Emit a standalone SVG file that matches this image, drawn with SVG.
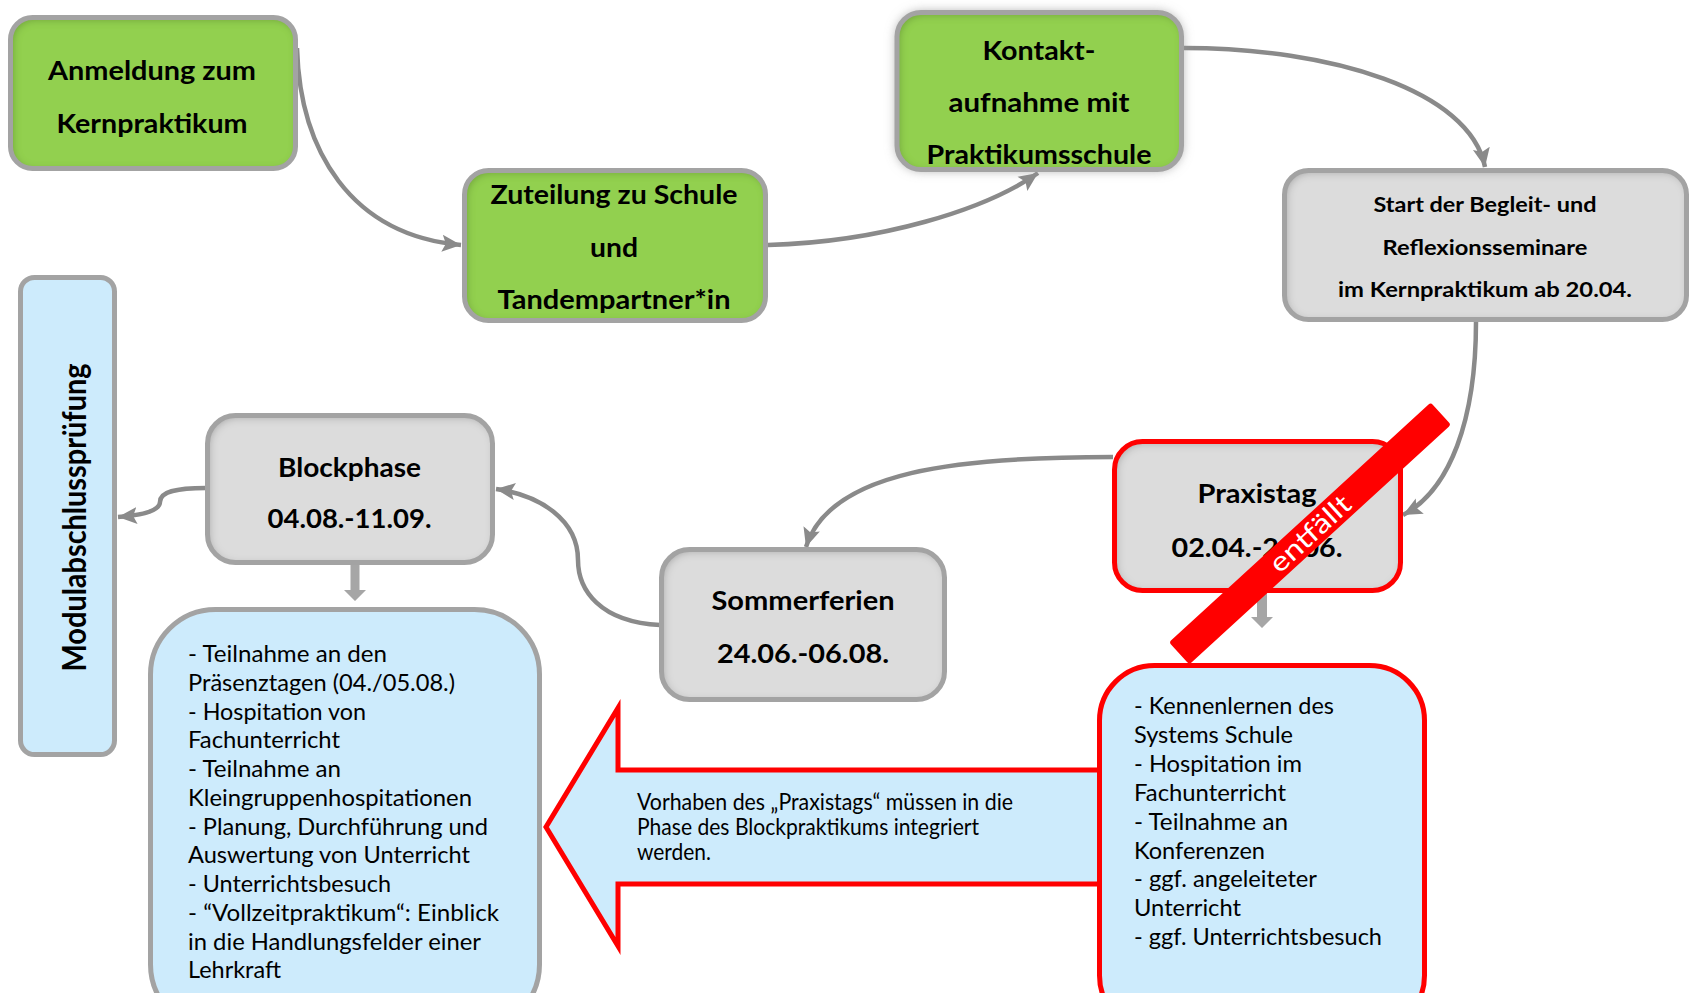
<svg xmlns="http://www.w3.org/2000/svg" width="1694" height="993" viewBox="0 0 1694 993">
<style>
.t{font-family:Lato,"Open Sans","Liberation Sans",sans-serif;font-weight:700;fill:#000;text-anchor:middle}
.b{font-family:Lato,"Open Sans","Liberation Sans",sans-serif;font-weight:400;fill:#000;font-size:23px}
.con{fill:none;stroke:#8a8a8a;stroke-width:4.5}
.blk{fill:#a6a6a6}
.gfill{fill:#92d050}
.grfill{fill:#dcdcdc}
.bfill{fill:#cdebfc}
.gb{fill:none;stroke:#a3a3a3;stroke-width:5}
.rb{fill:none;stroke:#ff0000;stroke-width:5}
</style>
<defs>
<marker id="ah" markerUnits="userSpaceOnUse" viewBox="0 0 20 20" refX="20" refY="10" markerWidth="19" markerHeight="19" orient="auto">
<path d="M0,1 L20,10 L0,19 L4,10 z" fill="#8a8a8a"/>
</marker>
<filter id="inner" x="-5%" y="-5%" width="110%" height="110%">
<feComponentTransfer in="SourceAlpha"><feFuncA type="table" tableValues="1 0"/></feComponentTransfer>
<feGaussianBlur stdDeviation="4"/>
<feOffset dx="2" dy="2" result="ob"/>
<feFlood flood-color="#000" flood-opacity="0.5"/>
<feComposite in2="ob" operator="in"/>
<feComposite in2="SourceAlpha" operator="in"/>
<feMerge><feMergeNode in="SourceGraphic"/><feMergeNode/></feMerge>
</filter>
<filter id="glow" x="-20%" y="-20%" width="140%" height="140%">
<feGaussianBlur stdDeviation="6"/>
</filter>
</defs>

<g id="connectors">
<path class="con" marker-end="url(#ah)" d="M297,48 C300,150 350,235 461,245"/>
<path class="con" marker-end="url(#ah)" d="M768,245 C880,242 985,210 1038,173"/>
<path class="con" marker-end="url(#ah)" d="M1184,48 C1330,48 1470,90 1485,167"/>
<path class="con" marker-end="url(#ah)" d="M1476,322 C1476,420 1450,490 1403,515"/>
<path class="con" marker-end="url(#ah)" d="M1113,457 C960,457 830,470 806,547"/>
<path class="con" marker-end="url(#ah)" d="M660,625 C600,622 578,590 578,560 C578,520 540,495 496,489"/>
<path class="con" marker-end="url(#ah)" d="M206,488 C175,488 160,492 160,502 C160,510 145,515 118,517"/>
<polygon class="blk" points="350.5,565 359.5,565 359.5,590 366,590 355,601 344,590 350.5,590"/>
<polygon class="blk" points="1257,593 1267,593 1267,617 1273,617 1262,628 1251,617 1257,617"/>
</g>

<g id="n-anmeldung">
<rect class="gfill" filter="url(#inner)" x="10.5" y="17.5" width="285" height="151" rx="22"/>
<rect class="gb" x="10.5" y="17.5" width="285" height="151" rx="22"/>
<text class="t" font-size="26" x="152" y="80" textLength="208" lengthAdjust="spacingAndGlyphs">Anmeldung zum</text>
<text class="t" font-size="26" x="152" y="132.7" textLength="191" lengthAdjust="spacingAndGlyphs">Kernpraktikum</text>
</g>

<g id="n-zuteilung">
<rect class="gfill" filter="url(#inner)" x="464.5" y="170.5" width="301" height="150" rx="24"/>
<rect class="gb" x="464.5" y="170.5" width="301" height="150" rx="24"/>
<text class="t" font-size="26" x="614" y="204" textLength="247" lengthAdjust="spacingAndGlyphs">Zuteilung zu Schule</text>
<text class="t" font-size="26" x="614" y="257" textLength="48" lengthAdjust="spacingAndGlyphs">und</text>
<text class="t" font-size="26" x="614" y="309" textLength="233" lengthAdjust="spacingAndGlyphs">Tandempartner*in</text>
</g>

<g id="n-kontakt">
<rect x="897" y="12.5" width="284.5" height="157" rx="24" fill="#9a9a9a" filter="url(#glow)"/>
<rect class="gfill" filter="url(#inner)" x="897" y="12.5" width="284.5" height="157" rx="24"/>
<rect class="gb" x="897" y="12.5" width="284.5" height="157" rx="24"/>
<text class="t" font-size="27" x="1039" y="60" textLength="113" lengthAdjust="spacingAndGlyphs">Kontakt-</text>
<text class="t" font-size="27" x="1039" y="112" textLength="181" lengthAdjust="spacingAndGlyphs">aufnahme mit</text>
<text class="t" font-size="27" x="1039" y="164" textLength="225" lengthAdjust="spacingAndGlyphs">Praktikumsschule</text>
</g>

<g id="n-start">
<rect class="grfill" filter="url(#inner)" x="1284.5" y="170.5" width="402" height="149" rx="24"/>
<rect class="gb" x="1284.5" y="170.5" width="402" height="149" rx="24"/>
<text class="t" font-size="21" x="1485" y="212" textLength="223" lengthAdjust="spacingAndGlyphs">Start der Begleit- und</text>
<text class="t" font-size="21" x="1485" y="255" textLength="205" lengthAdjust="spacingAndGlyphs">Reflexionsseminare</text>
<text class="t" font-size="21" x="1485" y="297" textLength="294" lengthAdjust="spacingAndGlyphs">im Kernpraktikum ab 20.04.</text>
</g>

<g id="n-modul">
<rect class="bfill" x="20.5" y="277.5" width="94" height="477" rx="14"/>
<rect class="gb" x="20.5" y="277.5" width="94" height="477" rx="14"/>
<text class="t" font-size="32" transform="translate(86 517.5) rotate(-90)" x="0" y="0" textLength="308" lengthAdjust="spacingAndGlyphs">Modulabschlussprüfung</text>
</g>

<g id="n-blockphase">
<rect class="grfill" filter="url(#inner)" x="207.5" y="415.5" width="285" height="147" rx="28"/>
<rect class="gb" x="207.5" y="415.5" width="285" height="147" rx="28"/>
<text class="t" font-size="26" x="349.5" y="477" textLength="143" lengthAdjust="spacingAndGlyphs">Blockphase</text>
<text class="t" font-size="26" x="349.5" y="528" textLength="164" lengthAdjust="spacingAndGlyphs">04.08.-11.09.</text>
</g>

<g id="n-sommerferien">
<rect class="grfill" filter="url(#inner)" x="661.5" y="549.5" width="283" height="150" rx="28"/>
<rect class="gb" x="661.5" y="549.5" width="283" height="150" rx="28"/>
<text class="t" font-size="26" x="803" y="610" textLength="183" lengthAdjust="spacingAndGlyphs">Sommerferien</text>
<text class="t" font-size="26" x="803" y="663" textLength="172" lengthAdjust="spacingAndGlyphs">24.06.-06.08.</text>
</g>

<g id="n-praxistag">
<rect class="grfill" filter="url(#inner)" x="1114.5" y="441.5" width="286" height="149" rx="28"/>
<rect class="rb" x="1114.5" y="441.5" width="286" height="149" rx="28"/>
<text class="t" font-size="26" x="1257" y="503" textLength="119" lengthAdjust="spacingAndGlyphs">Praxistag</text>
<text class="t" font-size="26" x="1257" y="557" textLength="171" lengthAdjust="spacingAndGlyphs">02.04.-23.06.</text>
</g>

<g id="n-blockdetails">
<rect class="bfill" x="150.5" y="609.5" width="389" height="420" rx="65"/>
<rect class="gb" x="150.5" y="609.5" width="389" height="420" rx="65"/>
<text class="b" x="188" y="662" textLength="199" lengthAdjust="spacingAndGlyphs">- Teilnahme an den</text>
<text class="b" x="188" y="690.7" textLength="267" lengthAdjust="spacingAndGlyphs">Präsenztagen (04./05.08.)</text>
<text class="b" x="188" y="719.5" textLength="178" lengthAdjust="spacingAndGlyphs">- Hospitation von</text>
<text class="b" x="188" y="748.2" textLength="152" lengthAdjust="spacingAndGlyphs">Fachunterricht</text>
<text class="b" x="188" y="777" textLength="153" lengthAdjust="spacingAndGlyphs">- Teilnahme an</text>
<text class="b" x="188" y="805.7" textLength="284" lengthAdjust="spacingAndGlyphs">Kleingruppenhospitationen</text>
<text class="b" x="188" y="834.5" textLength="300" lengthAdjust="spacingAndGlyphs">- Planung, Durchführung und</text>
<text class="b" x="188" y="863.2" textLength="282" lengthAdjust="spacingAndGlyphs">Auswertung von Unterricht</text>
<text class="b" x="188" y="892" textLength="203" lengthAdjust="spacingAndGlyphs">- Unterrichtsbesuch</text>
<text class="b" x="188" y="920.7" textLength="311" lengthAdjust="spacingAndGlyphs">- “Vollzeitpraktikum“: Einblick</text>
<text class="b" x="188" y="949.5" textLength="293" lengthAdjust="spacingAndGlyphs">in die Handlungsfelder einer</text>
<text class="b" x="188" y="978.2" textLength="93" lengthAdjust="spacingAndGlyphs">Lehrkraft</text>
</g>

<g id="n-hinweis">
<polygon class="bfill" stroke="#ff0000" stroke-width="5" stroke-linejoin="miter" points="1105,770 618,770 618,708 546,827 618,946 618,884 1105,884"/>
<text class="b" font-size="20" x="637" y="810" textLength="376" lengthAdjust="spacingAndGlyphs">Vorhaben des „Praxistags“ müssen in die</text>
<text class="b" font-size="20" x="637" y="835" textLength="342" lengthAdjust="spacingAndGlyphs">Phase des Blockpraktikums integriert</text>
<text class="b" font-size="20" x="637" y="860" textLength="74" lengthAdjust="spacingAndGlyphs">werden.</text>
</g>

<g id="n-praxisdetails">
<rect class="bfill" x="1099.5" y="665.5" width="325" height="365" rx="55"/>
<rect class="rb" x="1099.5" y="665.5" width="325" height="365" rx="55"/>
<text class="b" x="1134" y="714" textLength="200" lengthAdjust="spacingAndGlyphs">- Kennenlernen des</text>
<text class="b" x="1134" y="742.9" textLength="159" lengthAdjust="spacingAndGlyphs">Systems Schule</text>
<text class="b" x="1134" y="771.8" textLength="168" lengthAdjust="spacingAndGlyphs">- Hospitation im</text>
<text class="b" x="1134" y="800.7" textLength="152" lengthAdjust="spacingAndGlyphs">Fachunterricht</text>
<text class="b" x="1134" y="829.6" textLength="154" lengthAdjust="spacingAndGlyphs">- Teilnahme an</text>
<text class="b" x="1134" y="858.5" textLength="131" lengthAdjust="spacingAndGlyphs">Konferenzen</text>
<text class="b" x="1134" y="887.4" textLength="183" lengthAdjust="spacingAndGlyphs">- ggf. angeleiteter</text>
<text class="b" x="1134" y="916.3" textLength="107" lengthAdjust="spacingAndGlyphs">Unterricht</text>
<text class="b" x="1134" y="945.2" textLength="248" lengthAdjust="spacingAndGlyphs">- ggf. Unterrichtsbesuch</text>
</g>

<g id="n-entfaellt" transform="translate(1310 533.5) rotate(-42.5)">
<rect x="-177.5" y="-15" width="355" height="30" rx="3" fill="#ff0000"/>
<text x="0" y="9.5" font-family="Lato,'Open Sans','Liberation Sans',sans-serif" font-size="27" fill="#fff" text-anchor="middle" textLength="100" lengthAdjust="spacingAndGlyphs">entfällt</text>
</g>
</svg>
